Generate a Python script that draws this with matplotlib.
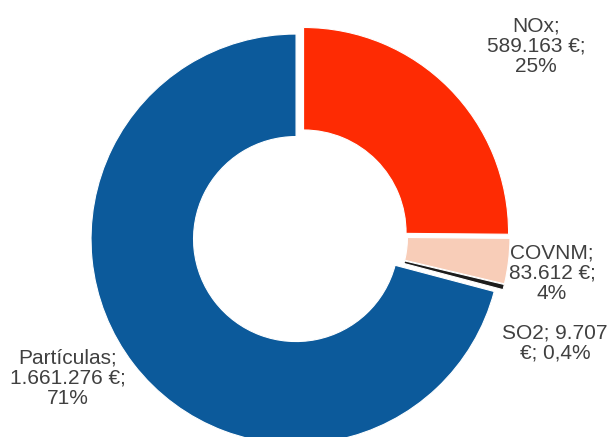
import matplotlib
matplotlib.use("Agg")
import matplotlib.pyplot as plt

# Emission costs by pollutant
categories = ["NOx", "COVNM", "SO2", "Partículas"]
values = [589163, 83612, 9707, 1661276]
colors = ["#FE2B03", "#F8CDB8", "#1C1C1C", "#0C5A9B"]
labels = [
    "NOx;\n589.163 €;\n25%",
    "COVNM;\n83.612 €;\n4%",
    "SO2; 9.707\n€; 0,4%",
    "Partículas;\n1.661.276 €;\n71%",
]

W, H = 608, 437
fig = plt.figure(figsize=(W / 100, H / 100), dpi=100)
ax = fig.add_axes([0, 0, 1, 1])

# axes units equal pixels, so radius and offsets are in px
center = (300, H - 236)
radius = 205

ax.pie(
    values,
    colors=colors,
    startangle=90,
    counterclock=False,
    explode=[5] * len(values),
    radius=radius,
    center=center,
    wedgeprops=dict(width=radius * 0.5, edgecolor="white", linewidth=0.8),
)

ax.set_aspect("auto")
ax.set_xlim(0, W)
ax.set_ylim(0, H)
ax.axis("off")

label_pos = [(536, H - 46), (552, H - 273), (555, H - 343), (68, H - 378)]
for text, (x, y) in zip(labels, label_pos):
    ax.text(x, y, text, ha="center", va="center", fontsize=15,
            family="Liberation Sans", color="#404040", linespacing=1.08)

fig.savefig("out.png", dpi=100)
